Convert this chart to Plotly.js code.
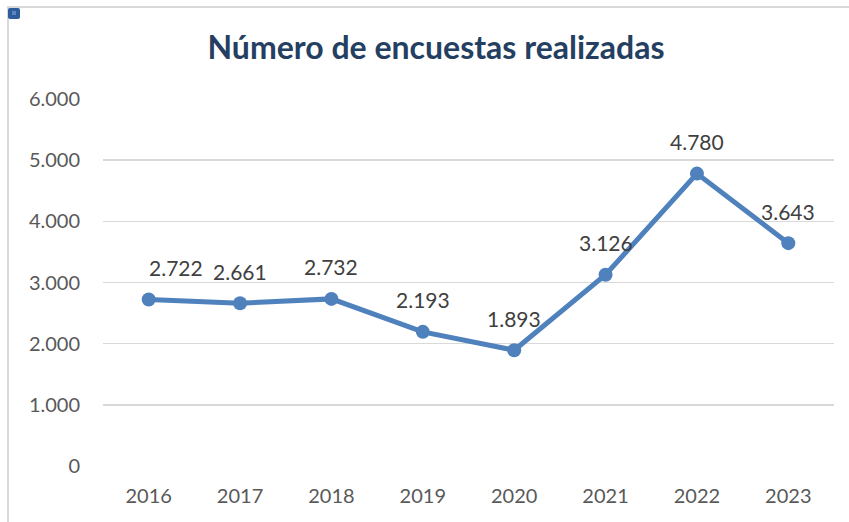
<!DOCTYPE html>
<html>
<head>
<meta charset="utf-8">
<script src="https://cdn.plot.ly/plotly-3.0.1.min.js"></script>
<style>
  html, body { margin: 0; padding: 0; background: #fff; }
  #chart { position: absolute; left: 0; top: 0; width: 849px; height: 522px; }
  #frame { position: absolute; left: 7px; top: 6px; width: 860px; height: 530px;
           border-left: 2px solid #d9d9d9; border-top: 2px solid #d9d9d9; pointer-events: none; }
  #handle { position: absolute; left: 8px; top: 8px; width: 12px; height: 11px;
            background: #2f5c9a; border-radius: 2px; }
  #handle div { position: absolute; left: 4px; top: 3px; width: 4px; height: 4px; background: #5a86c4; }
</style>
</head>
<body>
<div id="chart"></div>
<div id="frame"></div>
<div id="handle"><div></div></div>
<script>
const years = ["2016", "2017", "2018", "2019", "2020", "2021", "2022", "2023"];
const surveys = [2722, 2661, 2732, 2193, 1893, 3126, 4780, 3643];
const yTickVals = [0, 1000, 2000, 3000, 4000, 5000, 6000];
const yTickText = ["0", "1.000", "2.000", "3.000", "4.000", "5.000", "6.000"];
const labelXShift = [27, 0, 0, 0, 0, 0, 0, 0];

function fmt(v) {
  return String(v).replace(/\B(?=(\d{3})+(?!\d))/g, ".");
}

const font = "Lato, 'Open Sans', sans-serif";

const trace = {
  x: years,
  y: surveys,
  type: "scatter",
  mode: "lines+markers",
  line: { color: "#4f81bd", width: 5 },
  marker: { color: "#4f81bd", size: 14 },
  hoverinfo: "skip"
};

const annotations = years.map((yr, i) => ({
  x: i, y: surveys[i], xref: "x", yref: "y",
  text: fmt(surveys[i]), showarrow: false,
  yshift: 32, xshift: labelXShift[i],
  font: { family: font, size: 21, color: "#404040" }
}));

const layout = {
  width: 849, height: 522,
  margin: { l: 103, r: 15, t: 99, b: 56 },
  paper_bgcolor: "#ffffff",
  plot_bgcolor: "#ffffff",
  showlegend: false,
  title: {
    text: "<b>Número de encuestas realizadas</b>",
    font: { family: font, size: 32, color: "#243f62" },
    x: 436 / 849, xanchor: "center", xref: "container",
    y: 1 - 48 / 522, yref: "container", yanchor: "middle"
  },
  xaxis: {
    type: "category",
    range: [-0.5, 7.5],
    showgrid: false, zeroline: false, showline: false,
    ticks: "", ticklabelstandoff: 16,
    tickfont: { family: font, size: 20, color: "#595959" }
  },
  yaxis: {
    range: [0, 6000],
    tickvals: yTickVals, ticktext: yTickText,
    showgrid: true, gridcolor: "#d9d9d9", gridwidth: 1.5,
    zeroline: false, showline: false,
    ticks: "", ticklabelstandoff: 22,
    tickfont: { family: font, size: 20, color: "#595959" }
  },
  annotations: annotations
};

Plotly.newPlot("chart", [trace], layout, { displayModeBar: false, staticPlot: true });
</script>
</body>
</html>
